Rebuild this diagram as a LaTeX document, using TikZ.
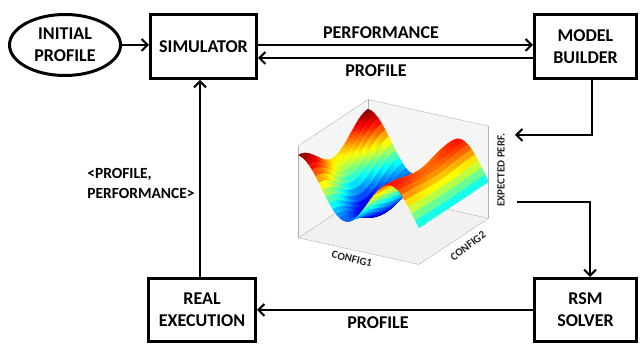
\documentclass[tikz,border=0pt]{standalone}
\usepackage{fontspec}
\setmainfont{Carlito}
\usepackage{pgfplots}
\pgfplotsset{compat=1.18}
\usetikzlibrary{arrows.meta,shapes.geometric,calc}
\begin{document}
\begin{tikzpicture}[x=1pt,y=1pt,
  bigfont/.style={font=\fontsize{18}{22}\selectfont\bfseries},
  box/.style={draw, line width=3pt, align=center, inner sep=0pt, bigfont},
  lbl/.style={bigfont, inner sep=0pt},
  lblsmall/.style={font=\fontsize{15.5}{20}\selectfont\bfseries, inner sep=0pt, align=left},
  arr/.style={line width=2pt, -{Straight Barb[length=6pt,width=12pt,line width=2pt]}},
  axlbl/.style={font=\fontsize{11}{12}\selectfont\bfseries, inner sep=0pt, text=black!85}]
\path (0,0) rectangle (640,347);

\begin{axis}[at={(393.5pt,165pt)}, anchor=center, scale only axis,
  width=190pt, height=165pt, view={30}{30}, set layers,
  xmin=0, xmax=1, ymin=0, ymax=1, zmin=-1.4, zmax=1.5,
  xtick=\empty, ytick=\empty, ztick=\empty,
  minor xtick={0,0.2,...,1}, minor ytick={0,0.2,...,1}, minor ztick={-1.4,-1.0,...,1.5},
  grid=minor, minor grid style={gray!22, line width=0.4pt},
  axis line style={gray!60, line width=0.4pt},
  minor tick style={gray!70, line width=0.4pt},
  colormap/jet]
  \begin{pgfonlayer}{axis background}
    \fill[gray!8] (axis cs:0,0,-1.4) -- (axis cs:0,1,-1.4) -- (axis cs:0,1,1.5) -- (axis cs:0,0,1.5) -- cycle;
    \fill[gray!8] (axis cs:0,1,-1.4) -- (axis cs:1,1,-1.4) -- (axis cs:1,1,1.5) -- (axis cs:0,1,1.5) -- cycle;
    \fill[gray!11] (axis cs:0,0,-1.4) -- (axis cs:1,0,-1.4) -- (axis cs:1,1,-1.4) -- (axis cs:0,1,-1.4) -- cycle;
  \end{pgfonlayer}
  \addplot3[surf, shader=flat, samples=36, domain=0:1, y domain=0:1]
    {0.8*cos(468*x) + 0.4*cos(360*y)*(1-x)};
\end{axis}

\node[axlbl, rotate=90] (zl) at (501,177) {EXPECTED PERF.};
\node[axlbl, rotate=-13] (xl) at (352,88) {CONFIG1};
\node[axlbl, rotate=37] (yl) at (468,101) {CONFIG2};

\node[draw, ellipse, line width=3pt, minimum width=111pt, minimum height=61pt, align=center, inner sep=0pt, bigfont] (init) at (65,302) {INITIAL\\PROFILE};
\node[box, minimum width=106pt, minimum height=64pt] (sim) at (203.5,300.5) {SIMULATOR};
\node[box, minimum width=102pt, minimum height=64pt] (mb) at (585.5,300.5) {MODEL\\BUILDER};
\node[box, minimum width=102pt, minimum height=63pt] (rsm) at (585.5,37) {RSM\\SOLVER};
\node[box, minimum width=107pt, minimum height=63pt] (real) at (202,37) {REAL\\EXECUTION};

\draw[arr] (init.east) -- (init.east -| sim.west);
\draw[arr] ([yshift=1.5pt]sim.east) -- ([yshift=1.5pt]mb.west);
\draw[arr] ([yshift=-11.5pt]mb.west) -- ([yshift=-11.5pt]sim.east);
\coordinate (plotin) at (515,212);
\draw[arr] ([xshift=6.5pt]mb.south) |- (plotin);
\coordinate (plotout) at (517,145);
\draw[arr] (plotout) -| ([xshift=4.5pt]rsm.north);
\draw[arr] (rsm.west) -- (real.east);
\draw[arr] ([xshift=-2pt]real.north) -- ([xshift=-2pt]real.north |- sim.south);

\node[lbl] (lperf) at (381,314) {PERFORMANCE};
\node[lbl] (lprof1) at (376,276) {PROFILE};
\node[lbl] (lprof2) at (378,24) {PROFILE};
\node[lblsmall] (lpair) at (141,164) {<PROFILE,\\PERFORMANCE>};
\end{tikzpicture}
\end{document}
